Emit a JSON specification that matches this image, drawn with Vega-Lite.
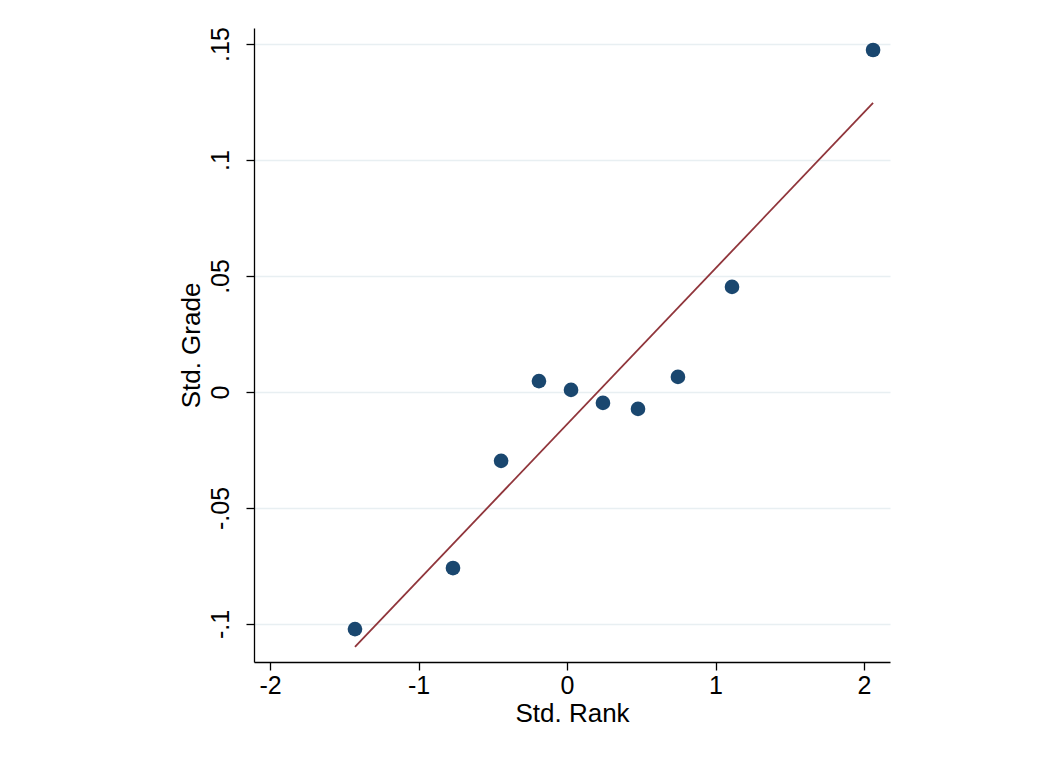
{
  "$schema": "https://vega.github.io/schema/vega-lite/v6.json",
  "width": 636,
  "height": 634,
  "autosize": {"type": "none"},
  "padding": {"left": 254, "top": 28, "right": 157, "bottom": 103},
  "background": "white",
  "config": {
    "view": {"stroke": null},
    "font": "Liberation Sans",
    "axis": {
      "labelFont": "Liberation Sans",
      "titleFont": "Liberation Sans",
      "labelColor": "black",
      "titleColor": "black",
      "domainColor": "black",
      "tickColor": "black",
      "labelFontSize": 25,
      "titleFontSize": 26,
      "titleFontWeight": "normal",
      "tickSize": 8,
      "domainWidth": 1.3,
      "tickWidth": 1.3
    }
  },
  "layer": [
    {
      "data": {"values": [
        {"rank": -1.428, "grade": -0.1022},
        {"rank": -0.768, "grade": -0.0759},
        {"rank": -0.444, "grade": -0.0297},
        {"rank": -0.189, "grade": 0.0047},
        {"rank": 0.027, "grade": 0.0009},
        {"rank": 0.242, "grade": -0.0047},
        {"rank": 0.478, "grade": -0.0073},
        {"rank": 0.747, "grade": 0.0065},
        {"rank": 1.111, "grade": 0.0453},
        {"rank": 2.061, "grade": 0.1474}
      ]},
      "mark": {"type": "point", "filled": true, "opacity": 1, "size": 215, "color": "#1a476f"},
      "encoding": {
        "x": {
          "field": "rank", "type": "quantitative",
          "scale": {"domain": [-2.108, 2.175], "nice": false, "zero": false},
          "axis": {
            "title": "Std. Rank", "values": [-2, -1, 0, 1, 2], "grid": false,
            "labelExpr": "replace(format(datum.value, '~g'), '\u2212', '-')",
            "labelPadding": 3, "titlePadding": 2
          }
        },
        "y": {
          "field": "grade", "type": "quantitative",
          "scale": {"domain": [-0.1164, 0.1569], "nice": false, "zero": false},
          "axis": {
            "title": "Std. Grade",
            "values": [-0.1, -0.05, 0, 0.05, 0.1, 0.15],
            "labelExpr": "replace(replace(format(datum.value, '.2~f'), '0.', '.'), '\u2212', '-')",
            "labelAngle": -90,
            "labelAlign": "center",
            "labelBaseline": "bottom",
            "labelPadding": 13,
            "titlePadding": 4,
            "grid": true,
            "gridColor": "#e8eff2",
            "gridWidth": 1.5
          }
        }
      }
    },
    {
      "data": {"values": [
        {"rank": -1.428, "fit": -0.1099},
        {"rank": 2.061, "fit": 0.1246}
      ]},
      "mark": {"type": "line", "color": "#90353b", "strokeWidth": 1.8},
      "encoding": {
        "x": {"field": "rank", "type": "quantitative"},
        "y": {"field": "fit", "type": "quantitative"}
      }
    }
  ]
}
